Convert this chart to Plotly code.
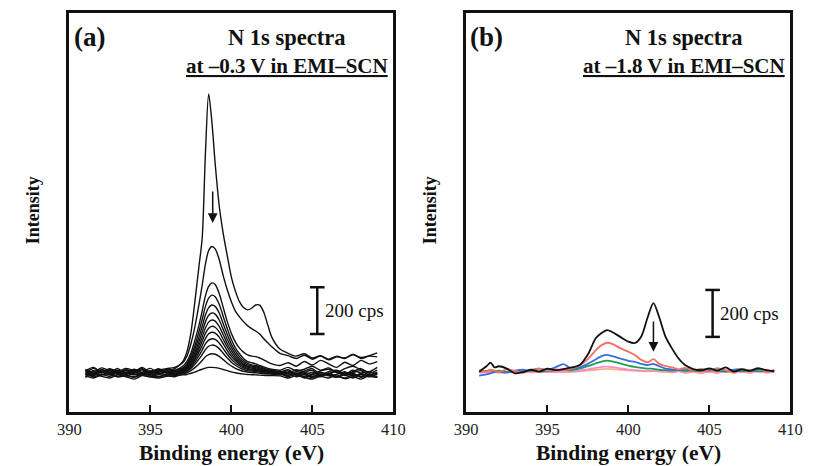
import plotly.graph_objects as go

# ---------------- data: N 1s XPS spectra (cps vs binding energy, eV) ----------------
# panel (a): spectra recorded at -0.3 V, decreasing intensity with time
energy_a = [391.0, 391.5, 392.0, 392.5, 393.0, 393.5, 394.0, 394.5, 395.0, 395.5, 396.0, 396.5,
            397.0, 397.25, 397.5, 397.75, 398.0, 398.2, 398.4, 398.6, 398.8, 399.0,
            399.25, 399.5, 399.75, 400.0, 400.25, 400.5, 400.75, 401.0, 401.25, 401.5,
            401.75, 402.0, 402.25, 402.5, 403.0, 403.5, 404.0, 404.5, 405.0, 405.5,
            406.0, 406.5, 407.0, 407.5, 408.0, 408.5, 409.0]

spectra_a = [
    [175, 190, 168, 182, 160, 178, 170, 185, 165, 180, 172, 185,
     215, 255, 335, 470, 620, 740, 1100, 1355, 1235, 1060,
     880, 760, 665, 575, 515, 470, 445, 435, 442, 456,
     455, 425, 370, 318, 268, 250, 238, 248, 230, 240,
     225, 238, 228, 245, 232, 240, 252],
    [182, 170, 188, 175, 165, 180, 172, 190, 168, 178, 185, 190,
     210, 237, 290, 363, 457, 540, 630, 688, 705, 695,
     650, 580, 520, 470, 430, 405, 385, 368, 355, 345,
     332, 312, 295, 278, 250, 240, 228, 242, 225, 238,
     222, 235, 230, 245, 228, 238, 235],
    [168, 185, 172, 160, 178, 168, 182, 165, 175, 170, 182, 178,
     195, 215, 250, 305, 370, 430, 495, 535, 550, 543,
     505, 445, 385, 335, 298, 272, 255, 243, 238, 236,
     230, 222, 212, 205, 198, 210, 195, 215, 200, 220,
     205, 190, 212, 198, 220, 205, 215],
    [178, 165, 180, 170, 185, 160, 175, 182, 168, 185, 170, 176,
     188, 205, 238, 283, 342, 394, 449, 485, 498, 491,
     459, 407, 355, 309, 273, 248, 228, 215, 210, 205,
     198, 192, 186, 182, 178, 190, 175, 182, 195, 178,
     188, 170, 185, 195, 180, 172, 190],
    [160, 176, 168, 185, 172, 178, 160, 170, 186, 165, 175, 172,
     184, 199, 227, 267, 319, 364, 413, 445, 456, 450,
     422, 376, 330, 290, 259, 236, 219, 207, 201, 198,
     192, 187, 181, 178, 173, 165, 180, 170, 160, 175,
     182, 168, 158, 172, 185, 165, 178],
    [172, 162, 180, 165, 170, 186, 175, 160, 172, 180, 166, 170,
     181, 193, 219, 254, 300, 341, 384, 412, 422, 417,
     392, 351, 310, 275, 247, 226, 211, 201, 196, 193,
     188, 183, 178, 176, 171, 180, 163, 175, 185, 160,
     172, 178, 162, 168, 176, 158, 170],
    [158, 172, 166, 178, 160, 170, 165, 180, 158, 170, 175, 165,
     177, 189, 211, 243, 284, 320, 358, 383, 392, 387,
     365, 329, 292, 261, 236, 218, 204, 195, 191, 189,
     184, 180, 175, 173, 168, 158, 172, 165, 150, 168,
     160, 175, 155, 165, 150, 170, 160],
    [175, 160, 170, 158, 175, 162, 178, 168, 160, 175, 168, 162,
     175, 185, 205, 233, 269, 301, 335, 357, 365, 361,
     341, 309, 277, 249, 227, 211, 199, 191, 187, 185,
     181, 177, 173, 171, 167, 175, 160, 168, 178, 155,
     165, 172, 160, 178, 165, 155, 168],
    [165, 155, 172, 160, 150, 168, 158, 165, 175, 160, 170, 160,
     172, 181, 198, 223, 255, 283, 313, 333, 340, 336,
     319, 290, 262, 237, 218, 204, 193, 186, 182, 181,
     177, 174, 170, 168, 165, 150, 165, 158, 170, 152,
     162, 148, 168, 155, 160, 150, 162],
    [150, 165, 158, 170, 162, 152, 168, 158, 150, 165, 158, 164,
     170, 177, 192, 213, 240, 264, 290, 306, 312, 309,
     294, 270, 246, 225, 209, 197, 188, 182, 179, 177,
     174, 171, 168, 166, 163, 170, 158, 150, 162, 170,
     155, 160, 172, 152, 165, 172, 158],
    [162, 150, 160, 152, 168, 158, 150, 162, 155, 150, 162, 158,
     166, 172, 185, 203, 225, 245, 266, 280, 285, 283,
     270, 250, 230, 212, 199, 189, 181, 176, 174, 172,
     170, 167, 165, 164, 161, 155, 165, 145, 158, 150,
     165, 152, 145, 160, 148, 158, 150],
    [155, 145, 158, 165, 150, 155, 148, 160, 162, 152, 155, 150,
     162, 167, 176, 189, 205, 219, 235, 244, 248, 246,
     237, 223, 208, 196, 186, 179, 173, 170, 168, 167,
     165, 163, 162, 161, 159, 165, 150, 160, 145, 162,
     155, 148, 158, 145, 160, 152, 148],
    [148, 160, 152, 145, 158, 150, 140, 155, 150, 145, 152, 155,
     158, 160, 165, 170, 177, 182, 187, 190, 190, 189,
     186, 181, 176, 171, 167, 164, 162, 160, 159, 158,
     157, 156, 155, 155, 154, 145, 155, 148, 140, 152,
     145, 158, 142, 150, 140, 155, 148],
]

# panel (b): spectra recorded at -1.8 V
energy_b = [390.8, 391.25, 391.5, 391.75, 392.0, 392.5, 393.0, 393.5, 394.0, 394.5, 395.0,
            395.5, 396.0, 396.5, 397.0, 397.5, 398.0, 398.35, 398.7, 399.0, 399.5, 400.0,
            400.4, 400.8, 401.2, 401.55, 401.9, 402.3, 402.7, 403.1, 403.5, 404.0, 404.5,
            405.0, 405.5, 406.0, 406.5, 407.0, 407.5, 408.0, 408.5, 409.0]

spectrum_b_black = [172, 195, 210, 190, 195, 185, 165, 170, 180, 172, 185,
                    178, 183, 190, 200, 245, 315, 337, 349, 341, 320, 300,
                    294, 322, 405, 464, 405, 320, 270, 228, 200, 183, 178,
                    186, 176, 190, 172, 182, 175, 186, 178, 174]
spectrum_b_red = [178, 172, 180, 176, 170, 182, 175, 168, 180, 185, 176,
                  182, 178, 185, 198, 225, 264, 285, 295, 290, 272, 257,
                  243, 222, 212, 225, 205, 196, 190, 182, 188, 176, 184,
                  172, 185, 178, 170, 184, 176, 188, 172, 180]
spectrum_b_blue = [155, 160, 165, 170, 172, 168, 176, 180, 175, 185, 178,
                   190, 204, 185, 190, 205, 225, 238, 243, 238, 228, 218,
                   214, 205, 200, 205, 195, 185, 182, 178, 184, 176, 182,
                   178, 186, 175, 180, 184, 176, 182, 178, 172]
spectrum_b_green = [172, 175, 178, 172, 176, 170, 174, 172, 176, 173, 175,
                    178, 180, 178, 185, 195, 207, 215, 219, 216, 207, 198,
                    192, 188, 185, 184, 180, 178, 176, 178, 175, 177, 174,
                    178, 175, 172, 176, 174, 177, 173, 176, 174]
spectrum_b_pink = [168, 170, 168, 172, 170, 169, 171, 168, 172, 170, 171,
                   170, 173, 172, 176, 182, 188, 192, 193, 191, 186, 181,
                   178, 176, 175, 176, 174, 173, 172, 173, 171, 172, 170,
                   172, 171, 170, 172, 170, 171, 172, 170, 171]
spectrum_b_orange = [170, 168, 172, 170, 167, 171, 169, 172, 168, 171, 170,
                     172, 170, 171, 173, 176, 180, 183, 184, 183, 180, 177,
                     175, 174, 173, 174, 172, 171, 168, 175, 166, 172, 164,
                     175, 165, 176, 166, 174, 165, 176, 167, 172]

energy_ticks = [390, 395, 400, 405, 410]
scale_bar_cps = 200

SERIF = "Liberation Serif"

fig = go.Figure()

for spec in spectra_a:
    fig.add_trace(go.Scatter(x=energy_a, y=spec, mode="lines", xaxis="x", yaxis="y",
                             line=dict(color="#111111", width=1.4, shape="spline", smoothing=0.8),
                             showlegend=False, hoverinfo="skip"))

b_series = [
    (spectrum_b_orange, "#f9ae8c"),
    (spectrum_b_pink, "#f28fca"),
    (spectrum_b_green, "#1f9e55"),
    (spectrum_b_blue, "#3a6fd8"),
    (spectrum_b_red, "#f5705f"),
    (spectrum_b_black, "#111111"),
]
for spec, col in b_series:
    fig.add_trace(go.Scatter(x=energy_b, y=spec, mode="lines", xaxis="x2", yaxis="y2",
                             line=dict(color=col, width=1.8, shape="spline", smoothing=0.8),
                             showlegend=False, hoverinfo="skip"))

W, H = 816, 466
def px(x):
    return x / W
def py(y):
    return (H - y) / H

axis_common = dict(range=[390, 410], tickvals=energy_ticks, ticks="inside", ticklen=7,
                   tickwidth=2, tickcolor="#111", showline=True, linewidth=2.5,
                   linecolor="#111", mirror=True, showgrid=False, zeroline=False,
                   tickfont=dict(family=SERIF, size=16.5, color="#222"))
yaxis_common = dict(range=[0, 1700], showticklabels=False, ticks="", showline=True,
                    linewidth=2.5, linecolor="#111", mirror=True, showgrid=False,
                    zeroline=False, domain=[py(412), py(13)])

fig.update_layout(
    width=W, height=H,
    margin=dict(l=0, r=0, t=0, b=0),
    paper_bgcolor="white", plot_bgcolor="white",
    xaxis=dict(domain=[px(59), px(393)], anchor="y", **axis_common),
    yaxis=dict(anchor="x", **yaxis_common),
    xaxis2=dict(domain=[px(468), px(802)], anchor="y2", **axis_common),
    yaxis2=dict(anchor="x2", **yaxis_common),
)

shapes = []
annotations = []
panels = [
    ("x", "y", "(a)", "at \u20130.3 V in EMI\u2013SCN", 59, 393, 405.3, 332, (398.85, 946, 805)),
    ("x2", "y2", "(b)", "at \u20131.8 V in EMI\u2013SCN", 468, 802, 405.2, 320, (401.55, 392, 257)),
]
for xr, yr, tag, cond, left, right, bar_x, bar_y0, arrow in panels:
    mid = (left + right) / 2
    # 200 cps scale bar
    bar_y1 = bar_y0 + scale_bar_cps
    line = dict(color="#111", width=2.5)
    shapes.append(dict(type="line", xref=xr, yref=yr, x0=bar_x, x1=bar_x, y0=bar_y0, y1=bar_y1, line=line))
    for yy in (bar_y0, bar_y1):
        shapes.append(dict(type="line", xref=xr, yref=yr, x0=bar_x - 0.45, x1=bar_x + 0.45,
                           y0=yy, y1=yy, line=line))
    annotations.append(dict(xref=xr, yref=yr, x=bar_x + 0.35, y=(bar_y0 + bar_y1) / 2,
                            text=f"{scale_bar_cps} cps", showarrow=False,
                            xanchor="left", yanchor="middle",
                            font=dict(family=SERIF, size=19, color="#111")))
    # trend arrow
    ax_, tail, tip = arrow
    annotations.append(dict(xref=xr, yref=yr, x=ax_, y=tip, ax=ax_, ay=tail,
                            axref=xr, ayref=yr, text="", showarrow=True,
                            arrowhead=2, arrowsize=1.3, arrowwidth=1.5, arrowcolor="#111"))
    # panel labels and titles
    centred = dict(xref="paper", yref="paper", showarrow=False, xanchor="center", yanchor="middle")
    annotations.append(dict(x=px(left + 21), y=py(37), text=f"<b>{tag}</b>",
                            font=dict(family=SERIF, size=27, color="#111"), **centred))
    annotations.append(dict(x=px(left + 224), y=py(37), text="<b>N 1s spectra</b>",
                            font=dict(family=SERIF, size=22.5, color="#111"), **centred))
    annotations.append(dict(x=px(left + 224), y=py(66), text=f"<b><u>{cond}</u></b>",
                            font=dict(family=SERIF, size=21, color="#111"), **centred))
    annotations.append(dict(x=px(left - 37), y=py(210), text="<b>Intensity</b>", textangle=-90,
                            font=dict(family=SERIF, size=18, color="#111"), **centred))
    annotations.append(dict(x=px(mid), y=py(453), text="<b>Binding energy (eV)</b>",
                            font=dict(family=SERIF, size=21.5, color="#111"), **centred))

fig.update_layout(shapes=shapes, annotations=annotations)
fig.write_html("out.html")
